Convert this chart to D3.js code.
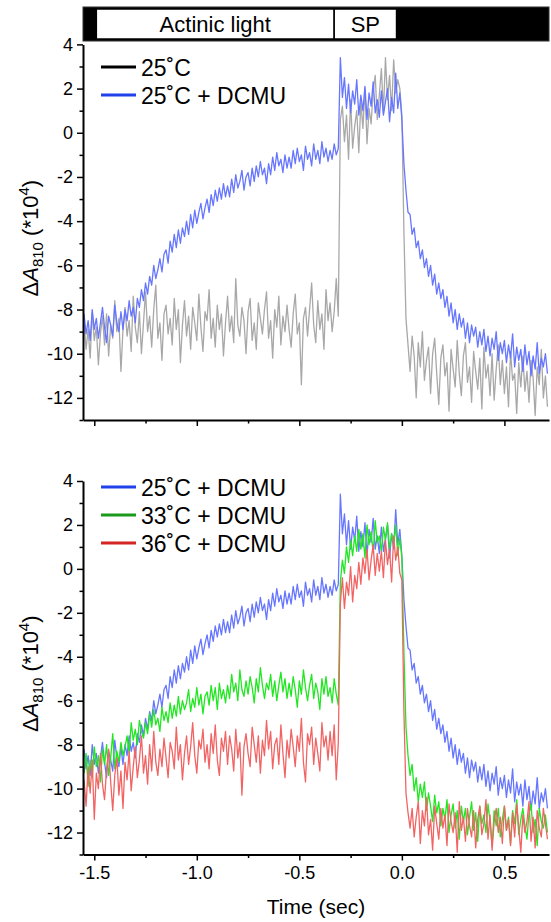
<!DOCTYPE html>
<html>
<head>
<meta charset="utf-8">
<script src="https://cdn.jsdelivr.net/npm/d3@7"></script>
<style>
  body { margin: 0; background: #fff; }
  svg { display: block; font-family: "Liberation Sans", Arial, sans-serif; }
</style>
</head>
<body>
<svg id="mainFrame"></svg>
<script>
// sample times (sec)
const time = [
  -1.55,-1.54,-1.53,-1.52,-1.51,-1.50,-1.49,-1.48,-1.47,-1.46,
  -1.45,-1.44,-1.43,-1.42,-1.41,-1.40,-1.39,-1.38,-1.37,-1.36,
  -1.35,-1.34,-1.33,-1.32,-1.31,-1.30,-1.29,-1.28,-1.27,-1.26,
  -1.25,-1.24,-1.23,-1.22,-1.21,-1.20,-1.19,-1.18,-1.17,-1.16,
  -1.15,-1.14,-1.13,-1.12,-1.11,-1.10,-1.09,-1.08,-1.07,-1.06,
  -1.05,-1.04,-1.03,-1.02,-1.01,-1.00,-0.99,-0.98,-0.97,-0.96,
  -0.95,-0.94,-0.93,-0.92,-0.91,-0.90,-0.89,-0.88,-0.87,-0.86,
  -0.85,-0.84,-0.83,-0.82,-0.81,-0.80,-0.79,-0.78,-0.77,-0.76,
  -0.75,-0.74,-0.73,-0.72,-0.71,-0.70,-0.69,-0.68,-0.67,-0.66,
  -0.65,-0.64,-0.63,-0.62,-0.61,-0.60,-0.59,-0.58,-0.57,-0.56,
  -0.55,-0.54,-0.53,-0.52,-0.51,-0.50,-0.49,-0.48,-0.47,-0.46,
  -0.45,-0.44,-0.43,-0.42,-0.41,-0.40,-0.39,-0.38,-0.37,-0.36,
  -0.35,-0.34,-0.33,-0.32,-0.31,
  -0.30,-0.29,-0.28,-0.27,-0.26,-0.25,-0.24,-0.23,-0.22,-0.21,
  -0.20,-0.19,-0.18,-0.17,-0.16,-0.15,-0.14,-0.13,-0.12,-0.11,
  -0.10,-0.09,-0.08,-0.07,-0.06,-0.05,-0.04,-0.03,-0.02,-0.01,
  0.00,0.01,0.02,0.03,0.04,0.05,0.06,0.07,0.08,0.09,
  0.10,0.11,0.12,0.13,0.14,0.15,0.16,0.17,0.18,0.19,
  0.20,0.21,0.22,0.23,0.24,0.25,0.26,0.27,0.28,0.29,
  0.30,0.31,0.32,0.33,0.34,0.35,0.36,0.37,0.38,0.39,
  0.40,0.41,0.42,0.43,0.44,0.45,0.46,0.47,0.48,0.49,
  0.50,0.51,0.52,0.53,0.54,0.55,0.56,0.57,0.58,0.59,
  0.60,0.61,0.62,0.63,0.64,0.65,0.66,0.67,0.68,0.69,
  0.70,0.71
]

// 25 C (no DCMU)
const control25 = [
  -8.6,-9.8,-8.9,-10.2,-8.1,-9.4,-8.8,-10.5,-9.1,-8.3,
  -9.6,-8.2,-10.1,-8.7,-9.3,-7.6,-9.0,-8.4,-10.8,-8.9,
  -7.9,-9.2,-8.5,-9.9,-7.4,-8.8,-9.5,-8.1,-10.0,-8.6,
  -7.2,-9.0,-8.3,-9.7,-8.0,-6.9,-9.3,-8.6,-10.3,-8.2,
  -7.8,-9.1,-8.4,-9.6,-7.5,-8.9,-8.0,-10.4,-8.7,-7.6,
  -9.2,-8.3,-9.8,-7.9,-8.6,-9.4,-7.3,-8.8,-9.9,-8.1,
  -8.5,-7.1,-9.3,-8.4,-9.7,-7.8,-8.9,-8.2,-10.1,-8.6,
  -7.4,-9.0,-8.3,-9.5,-6.6,-8.7,-9.2,-7.9,-8.5,-10.0,
  -8.1,-7.5,-9.4,-8.6,-9.8,-7.7,-8.4,-9.1,-8.0,-7.2,
  -9.3,-8.5,-10.2,-8.0,-8.8,-7.4,-9.6,-8.3,-9.0,-7.8,
  -8.9,-9.7,-8.2,-7.3,-9.1,-8.6,-11.4,-8.4,-7.9,-9.2,
  -8.0,-6.8,-8.7,-9.5,-7.6,-8.9,-8.2,-9.8,-7.1,-8.5,
  -7.7,-9.0,-8.1,-6.6,-8.3,
  0.6,1.2,-0.4,0.8,-1.2,1.5,-0.7,0.3,1.0,-0.9,
  1.4,0.2,2.0,-0.5,1.1,0.4,1.9,2.6,0.6,1.7,
  2.9,0.9,3.4,1.5,2.6,1.0,3.3,1.8,2.4,2.0,
  0.8,-4.5,-8.4,-9.6,-10.8,-9.2,-10.1,-12.0,-9.5,-10.6,
  -9.0,-11.2,-10.3,-9.7,-11.8,-10.0,-9.3,-10.9,-12.3,-10.2,
  -9.6,-11.0,-10.4,-12.6,-9.8,-10.7,-11.5,-9.4,-10.9,-11.9,
  -10.1,-9.5,-11.3,-10.6,-12.2,-9.9,-10.8,-11.6,-10.2,-12.5,
  -9.7,-11.1,-10.5,-11.9,-10.0,-12.1,-10.7,-9.6,-11.4,-10.3,
  -11.8,-10.6,-12.4,-9.9,-11.2,-10.9,-12.7,-10.4,-11.5,-10.1,
  -11.7,-10.8,-12.2,-10.3,-11.1,-12.8,-10.6,-11.4,-9.8,-12.0,
  -11.0,-12.4
]

// 25 C + DCMU
const dcmu25 = [
  -8.2,-9.1,-8.5,-9.4,-8.0,-8.9,-8.4,-9.3,-8.6,-7.9,
  -8.8,-9.5,-8.3,-8.7,-9.2,-7.8,-8.6,-9.0,-8.1,-8.9,
  -8.0,-8.5,-7.6,-8.3,-7.9,-8.6,-7.5,-7.9,-7.1,-7.6,
  -6.8,-7.3,-6.5,-6.9,-6.0,-6.6,-6.2,-5.7,-6.3,-5.5,
  -5.3,-5.9,-4.9,-5.4,-4.6,-5.2,-4.4,-5.0,-4.3,-4.7,
  -4.0,-4.6,-3.7,-4.3,-3.5,-4.1,-3.6,-3.2,-3.9,-3.4,
  -3.0,-3.6,-2.8,-3.3,-2.6,-3.1,-2.5,-3.0,-2.3,-2.9,
  -2.4,-2.9,-2.1,-2.7,-1.9,-2.5,-2.2,-1.7,-2.6,-2.0,
  -1.8,-2.4,-1.6,-2.2,-1.5,-2.0,-1.3,-1.9,-1.6,-2.3,
  -1.4,-1.9,-1.1,-1.7,-0.9,-1.5,-1.2,-1.8,-1.0,-1.6,
  -1.1,-1.6,-0.8,-1.4,-0.7,-1.3,-1.0,-1.7,-0.6,-1.2,
  -0.9,-1.5,-0.5,-1.2,-0.8,-1.4,-0.4,-1.1,-0.7,-1.3,
  -0.8,-1.2,-0.5,-1.0,-0.7,
  3.4,1.6,2.5,1.1,2.2,0.9,1.9,1.3,2.4,0.8,
  1.7,1.0,2.1,0.6,1.8,1.2,2.3,0.9,1.5,0.7,
  1.9,0.8,1.4,2.0,0.5,1.6,0.9,2.7,1.1,1.8,
  0.6,-1.4,-2.6,-3.6,-3.7,-4.6,-4.3,-5.2,-4.9,-5.7,
  -5.3,-6.1,-5.7,-6.5,-6.0,-6.9,-6.4,-7.3,-6.8,-7.5,
  -7.1,-7.9,-7.4,-8.3,-7.7,-8.6,-8.0,-8.9,-8.2,-8.8,
  -8.4,-9.3,-8.6,-9.5,-8.7,-9.2,-8.8,-9.7,-9.0,-9.6,
  -8.9,-9.9,-9.2,-10.1,-9.3,-9.8,-9.0,-10.3,-9.5,-10.0,
  -9.4,-10.4,-9.6,-10.2,-9.1,-10.6,-9.7,-10.3,-9.8,-10.8,
  -9.6,-10.5,-9.9,-11.0,-10.1,-10.7,-9.5,-10.9,-10.2,-10.6,
  -10.0,-10.9
]

// 33 C + DCMU
const dcmu33 = [
  -9.3,-8.4,-9.9,-8.7,-9.5,-8.1,-9.0,-8.5,-9.7,-8.2,
  -8.9,-8.0,-9.4,-8.6,-7.5,-9.1,-8.3,-8.8,-7.9,-8.5,
  -8.1,-7.6,-8.4,-7.0,-7.8,-7.3,-8.0,-6.9,-7.4,-7.7,
  -7.0,-7.5,-6.6,-7.2,-6.4,-7.1,-6.8,-7.4,-6.3,-6.9,
  -6.5,-7.0,-6.1,-6.8,-6.2,-6.7,-5.8,-6.6,-6.0,-6.4,
  -6.1,-5.5,-6.5,-5.9,-6.3,-5.4,-6.2,-5.7,-6.6,-5.8,
  -5.6,-6.2,-5.3,-6.0,-5.4,-6.4,-5.2,-5.9,-5.5,-6.1,
  -5.3,-5.9,-4.8,-5.6,-5.2,-6.0,-4.6,-5.5,-5.8,-5.1,
  -5.7,-4.9,-5.4,-6.1,-5.0,-5.6,-4.5,-5.3,-5.9,-5.2,
  -5.5,-4.8,-5.8,-5.1,-6.0,-5.3,-4.7,-5.6,-5.0,-5.9,
  -5.2,-5.8,-4.9,-5.5,-6.3,-5.1,-5.7,-4.6,-5.4,-6.0,
  -5.3,-4.8,-5.9,-5.2,-5.6,-6.4,-5.0,-5.7,-4.9,-5.8,
  -5.4,-6.1,-5.0,-5.7,-6.2,
  -0.6,0.4,-0.2,1.0,0.3,1.3,0.6,1.5,0.8,1.8,
  0.9,1.6,0.5,2.0,1.1,1.7,0.7,2.2,1.2,1.5,
  0.8,1.9,1.3,2.1,0.9,1.6,1.1,2.0,0.6,1.4,
  0.5,-3.8,-7.2,-8.5,-9.4,-8.9,-10.1,-9.5,-10.6,-9.8,
  -10.4,-9.7,-11.0,-10.2,-10.8,-11.5,-10.3,-11.1,-10.6,-11.7,
  -10.9,-11.4,-10.5,-12.0,-11.2,-10.7,-11.8,-11.0,-12.3,-10.8,
  -11.5,-10.9,-12.1,-11.3,-10.6,-11.9,-11.1,-12.4,-10.8,-11.6,
  -11.2,-12.0,-10.7,-11.5,-12.6,-11.0,-11.7,-10.9,-12.2,-11.4,
  -10.8,-11.9,-11.3,-12.5,-11.0,-11.6,-10.5,-12.1,-11.4,-10.9,
  -11.7,-12.3,-11.1,-10.7,-12.0,-11.4,-12.6,-10.9,-11.5,-11.8,
  -11.2,-12.0
]

// 36 C + DCMU
const dcmu36 = [
  -9.6,-10.8,-9.0,-10.2,-8.7,-11.4,-9.3,-10.0,-8.4,-9.8,
  -10.5,-9.1,-8.2,-9.7,-11.0,-9.4,-8.6,-10.3,-9.2,-10.9,
  -8.8,-9.6,-8.3,-10.1,-9.0,-8.1,-9.5,-8.7,-7.6,-9.3,
  -8.5,-9.8,-8.0,-9.2,-7.4,-8.8,-9.4,-8.2,-9.0,-7.7,
  -8.6,-9.5,-7.9,-8.3,-9.1,-7.2,-8.7,-8.0,-9.6,-8.4,
  -7.6,-8.9,-8.1,-7.0,-8.5,-9.3,-7.8,-8.2,-7.3,-8.8,
  -8.0,-9.1,-7.5,-8.4,-7.1,-8.7,-9.4,-7.7,-8.3,-7.4,
  -8.9,-7.6,-8.2,-9.2,-7.3,-8.6,-7.9,-10.3,-8.1,-7.5,
  -8.4,-9.0,-7.2,-8.0,-8.8,-7.6,-9.3,-7.8,-8.5,-6.9,
  -8.2,-7.4,-9.1,-8.0,-7.7,-8.9,-7.1,-8.4,-9.5,-7.8,
  -8.6,-7.3,-8.1,-9.0,-7.6,-8.3,-6.8,-8.8,-9.7,-7.5,
  -8.0,-7.2,-8.9,-7.7,-8.4,-9.2,-7.0,-8.1,-7.6,-8.7,
  -7.4,-8.5,-7.1,-9.6,-7.9,
  -1.6,-0.4,-1.8,-0.6,-1.2,0.1,-1.5,-0.3,-0.9,0.3,
  -0.7,0.5,-0.2,0.9,-0.5,0.4,1.1,-0.3,0.7,-0.1,
  0.8,-0.4,1.3,0.2,0.9,-0.6,1.5,0.4,1.0,-0.2,
  -0.5,-6.5,-10.2,-11.1,-11.8,-10.9,-12.2,-11.3,-10.6,-12.5,
  -11.0,-11.7,-10.4,-12.1,-11.4,-12.8,-10.8,-11.6,-12.3,-10.9,
  -11.8,-11.2,-12.6,-10.7,-11.5,-12.0,-11.1,-12.9,-10.6,-11.9,
  -11.3,-12.4,-10.9,-11.7,-12.2,-11.0,-12.7,-11.4,-10.8,-12.1,
  -11.6,-10.5,-12.3,-11.2,-12.8,-11.5,-10.9,-12.0,-11.3,-12.5,
  -10.8,-11.9,-11.4,-12.6,-11.1,-12.2,-10.7,-11.8,-12.9,-11.2,
  -12.0,-11.5,-10.6,-12.4,-11.3,-12.7,-11.0,-11.8,-12.2,-10.9,
  -11.6,-12.3
]

// light protocol bar: [label, start, end]
const protocol = [
  ['', -1.555, -1.49],
  ['Actinic light', -1.49, -0.33],
  ['SP', -0.33, -0.026],
  ['', -0.026, 0.7175]
]

const yTicks = [-12, -10, -8, -6, -4, -2, 0, 2, 4]
const yMinor = [-13, -11, -9, -7, -5, -3, -1, 1, 3]
const xTicks = [-1.5, -1.0, -0.5, 0.0, 0.5]
const xMinor = [-1.25, -0.75, -0.25, 0.25]

const topSeries = [
  { name: '25˚C', values: control25, color: '#a8a8a8', key: '#000000' },
  { name: '25˚C + DCMU', values: dcmu25, color: '#6676ff', key: '#2040e8' }
]
const bottomSeries = [
  { name: '25˚C + DCMU', values: dcmu25, color: '#6676ff', key: '#2040e8' },
  { name: '33˚C + DCMU', values: dcmu33, color: '#22e622', key: '#1a9a1a' },
  { name: '36˚C + DCMU', values: dcmu36, color: '#f26464', key: '#d42424' }
]

const width = 551
const height = 922

const svg = d3.select('#mainFrame')
    .attr('width', width)
    .attr('height', height)

const x = d3.scaleLinear()
    .domain([-1.555, 0.7175])
    .range([83, 549])

const panels = [
  { series: topSeries, top: 44.4, bottom: 420, labels: false, legendY: 67 },
  { series: bottomSeries, top: 481, bottom: 854.5, labels: true, legendY: 487 }
]

// protocol bar
const bar = svg.append('g')
bar.append('rect')
    .attr('x', x(protocol[0][1])).attr('y', 7)
    .attr('width', x(protocol[3][2]) - x(protocol[0][1])).attr('height', 34)
    .attr('fill', '#000').attr('stroke', '#333').attr('stroke-width', 1)
protocol.filter(d => d[0] !== '').forEach(d => {
  bar.append('rect')
      .attr('x', x(d[1])).attr('y', 9)
      .attr('width', x(d[2]) - x(d[1])).attr('height', 30)
      .attr('fill', '#fff').attr('stroke', '#000').attr('stroke-width', 1.5)
  bar.append('text')
      .attr('x', (x(d[1]) + x(d[2])) / 2).attr('y', 32)
      .attr('text-anchor', 'middle')
      .attr('font-size', 22)
      .text(d[0])
})

panels.forEach((p, pi) => {
  const y = d3.scaleLinear().domain([-13, 4]).range([p.bottom, p.top])
  const g = svg.append('g')

  g.append('clipPath').attr('id', 'clip' + pi)
    .append('rect')
      .attr('x', x.range()[0]).attr('y', p.top - 5)
      .attr('width', x.range()[1] - x.range()[0]).attr('height', p.bottom - p.top + 5)

  const line = d3.line()
      .x((d, i) => x(time[i]))
      .y(d => y(d))

  p.series.forEach(s => {
    g.append('path')
        .datum(s.values)
        .attr('clip-path', `url(#clip${pi})`)
        .attr('fill', 'none')
        .attr('stroke', s.color)
        .attr('stroke-width', 1.3)
        .attr('stroke-linejoin', 'round')
        .attr('d', line)
  })

  // axes
  g.append('g')
      .attr('transform', `translate(${x.range()[0]},0)`)
      .call(d3.axisLeft(y).tickValues(yTicks).tickSize(6).tickSizeOuter(0).tickPadding(4))
  g.append('g')
      .attr('transform', `translate(${x.range()[0]},0)`)
      .call(d3.axisLeft(y).tickValues(yMinor).tickSize(3.5).tickFormat('').tickSizeOuter(0))
      .call(a => a.select('.domain').remove())

  g.append('g')
      .attr('transform', `translate(0,${p.bottom})`)
      .call(d3.axisBottom(x).tickValues(xTicks).tickSize(6).tickSizeOuter(0).tickPadding(6)
          .tickFormat(p.labels ? d3.format('.1f') : ''))
  g.append('g')
      .attr('transform', `translate(0,${p.bottom})`)
      .call(d3.axisBottom(x).tickValues(xMinor).tickSize(3.5).tickFormat('').tickSizeOuter(0))
      .call(a => a.select('.domain').remove())

  g.selectAll('.domain').attr('stroke', '#000').attr('stroke-width', 2)
  g.selectAll('.tick line').attr('stroke', '#000').attr('stroke-width', 1.5)
  g.selectAll('.tick text')
      .attr('font-family', '"Liberation Sans", Arial, sans-serif')
      .attr('font-size', 18)
      .attr('fill', '#000')
      .text(function() { return this.textContent.replace('−', '-') })

  // y title
  const yt = g.append('text')
      .attr('transform', `translate(38,${(p.top + p.bottom) / 2 + 6}) rotate(-90)`)
      .attr('text-anchor', 'middle')
      .attr('font-size', 22)
  yt.append('tspan').text('Δ')
  yt.append('tspan').attr('font-style', 'italic').text('A')
  yt.append('tspan').attr('font-size', 15).attr('dy', 5).text('810')
  yt.append('tspan').attr('dy', -5).text(' (*10')
  yt.append('tspan').attr('font-size', 15).attr('dy', -9).text('4')
  yt.append('tspan').attr('dy', 9).text(')')

  // legend
  p.series.forEach((s, i) => {
    const ly = p.legendY + i * 28
    g.append('line')
        .attr('x1', 101).attr('x2', 136)
        .attr('y1', ly).attr('y2', ly)
        .attr('stroke', s.key).attr('stroke-width', 3)
    g.append('text')
        .attr('x', 141).attr('y', ly + 9)
        .attr('font-size', 23)
        .text(s.name)
  })
})

svg.append('text')
    .attr('x', 316).attr('y', 914)
    .attr('text-anchor', 'middle')
    .attr('font-size', 21)
    .text('Time (sec)')
</script>
</body>
</html>
